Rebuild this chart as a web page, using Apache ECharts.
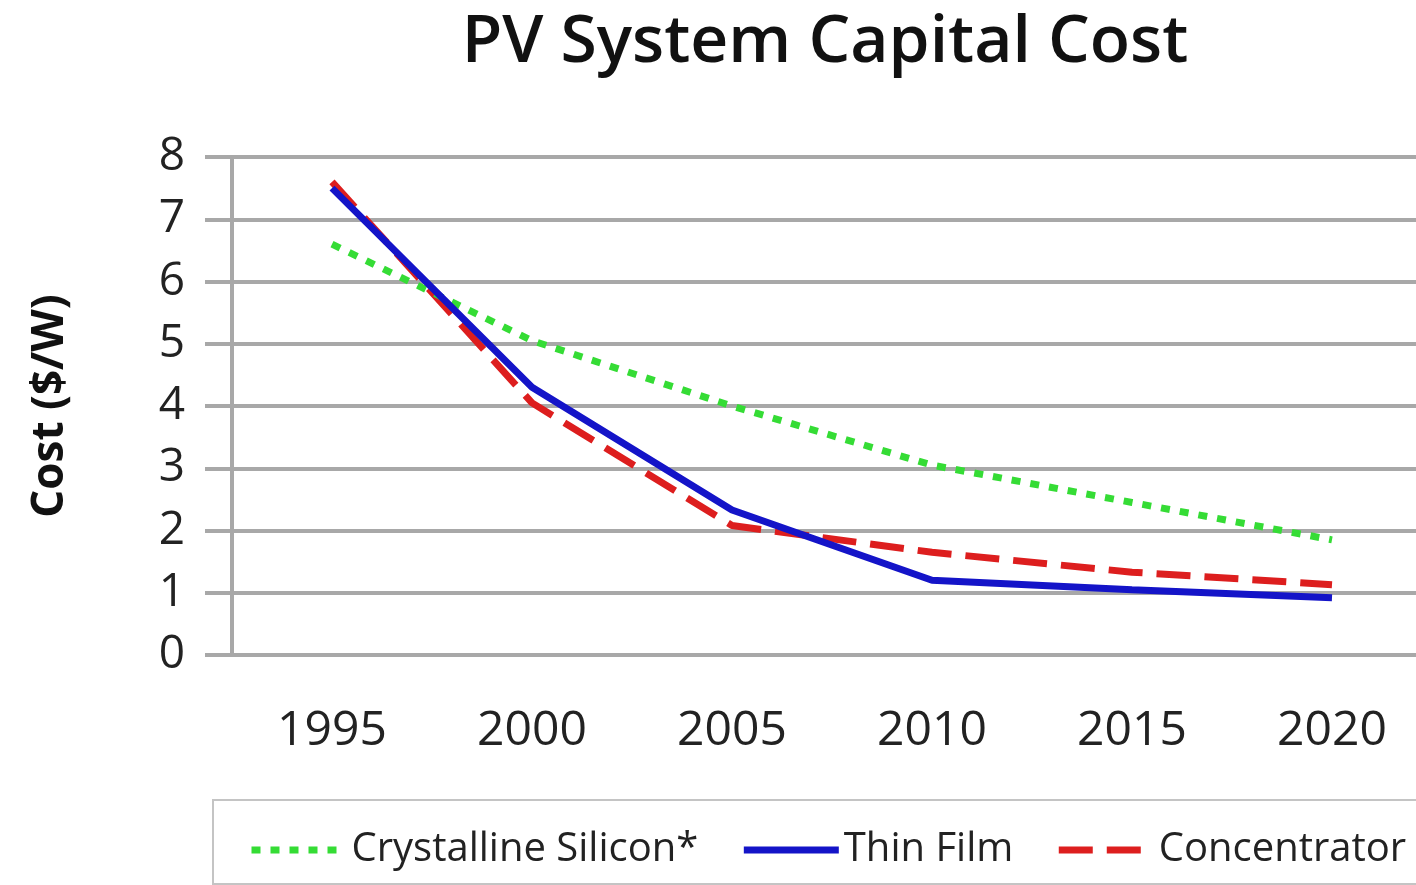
<!DOCTYPE html>
<html>
<head>
<meta charset="utf-8">
<title>PV System Capital Cost</title>
<script src="https://cdn.jsdelivr.net/npm/echarts@6/dist/echarts.min.js"></script>
<style>
  html, body { margin: 0; padding: 0; background: #fff; }
  #chart { width: 1416px; height: 885px; }
</style>
</head>
<body>
<div id="chart"></div>
<script>
// years on the x axis
var years = ['1995', '2000', '2005', '2010', '2015', '2020'];
// cost in $/W
var crystallineSilicon = [6.6, 5.05, 4.0, 3.05, 2.45, 1.85];
var thinFilm = [7.5, 4.3, 2.33, 1.2, 1.05, 0.92];
var concentrator = [7.6, 4.05, 2.08, 1.65, 1.33, 1.13];

var gridGray = '#a8a8a8';
var font = '"Open Sans", "Noto Sans", sans-serif';

var myChart = echarts.init(document.getElementById('chart'));

var option = {
  animation: false,
  title: {
    text: 'PV System Capital Cost',
    left: 820,
    textAlign: 'center',
    top: 5,
    textStyle: { fontFamily: font, fontSize: 66, fontWeight: 600, color: '#111' }
  },
  grid: { left: 232, top: 157, right: -16, bottom: 230, outerBoundsMode: 'none' },
  legend: {
    left: 213,
    top: 800,
    width: 1400,
    padding: [30, 30, 14, 35],
    borderColor: '#c4c4c4',
    borderWidth: 2,
    itemGap: 42,
    itemWidth: 95,
    itemHeight: 14,
    itemStyle: { opacity: 0 },
    lineStyle: { width: 7 },
    textStyle: { fontFamily: font, fontSize: 40, color: '#222' },
    data: ['Crystalline Silicon*', 'Thin Film', 'Concentrator']
  },
  xAxis: {
    type: 'category',
    data: years,
    boundaryGap: true,
    axisLine: { lineStyle: { color: gridGray, width: 4 } },
    axisTick: { length: 25, lineStyle: { color: gridGray, width: 4 } },
    axisLabel: { margin: 52, fontFamily: font, fontSize: 48, color: '#222' }
  },
  yAxis: {
    type: 'value',
    min: 0,
    max: 8,
    interval: 1,
    name: 'Cost ($/W)',
    nameLocation: 'middle',
    nameRotate: 90,
    nameGap: 160,
    nameTextStyle: { fontFamily: font, fontSize: 44, fontWeight: 'bold', color: '#111' },
    axisLine: { show: true, lineStyle: { color: gridGray, width: 4 } },
    axisTick: { show: true, length: 27, lineStyle: { color: gridGray, width: 4 } },
    splitLine: { lineStyle: { color: gridGray, width: 4 } },
    axisLabel: { margin: 47, fontFamily: font, fontSize: 46, color: '#222' }
  },
  series: [
    {
      name: 'Crystalline Silicon*',
      type: 'line',
      data: crystallineSilicon,
      symbol: 'none',
      lineStyle: { color: '#35dc35', width: 7, type: [9, 10] },
      itemStyle: { color: '#35dc35' }
    },
    {
      name: 'Thin Film',
      type: 'line',
      data: thinFilm,
      symbol: 'none',
      z: 3,
      lineStyle: { color: '#1414c8', width: 7 },
      itemStyle: { color: '#1414c8' }
    },
    {
      name: 'Concentrator',
      type: 'line',
      data: concentrator,
      symbol: 'none',
      z: 2,
      lineStyle: { color: '#dd1e1e', width: 7, type: [34, 14] },
      itemStyle: { color: '#dd1e1e' }
    }
  ]
};

myChart.setOption(option);
</script>
</body>
</html>
